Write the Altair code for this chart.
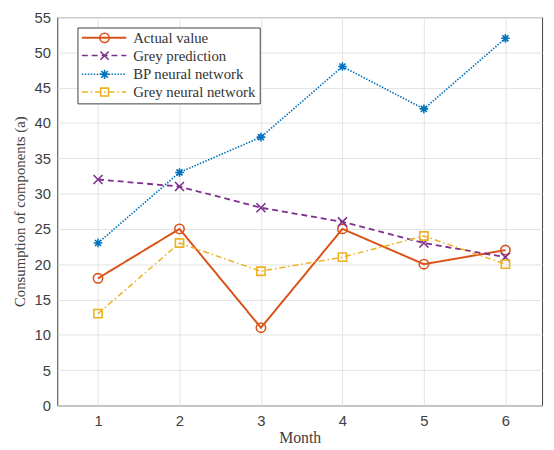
import altair as alt
import pandas as pd

months = [1, 2, 3, 4, 5, 6]
series_names = ["Actual value", "Grey prediction", "BP neural network", "Grey neural network"]
actual = [18, 25, 11, 25, 20, 22]
grey_pred = [32, 31, 28, 26, 23, 21]
bp_nn = [23, 33, 38, 48, 42, 52]
grey_nn = [13, 23, 19, 21, 24, 20]
y_ticks = list(range(0, 56, 5))

colors = ["#D95319", "#7E2F8E", "#0072BD", "#EDB120"]
dashes = [[1, 0], [6, 4], [1.5, 1.5], [6, 3, 1.5, 3]]
widths = [2, 1.5, 1.5, 1.5]
cross = "M-1,-1L1,1M-1,1L1,-1"
aster = "M-1,0L1,0M0,-1L0,1M-0.7,-0.7L0.7,0.7M-0.7,0.7L0.7,-0.7"
shapes = ["circle", cross, aster, "square"]
sizes = [90, 70, 90, 64]

rows = []
for name, vals in zip(series_names, [actual, grey_pred, bp_nn, grey_nn]):
    for m, v in zip(months, vals):
        rows.append({"month": m, "value": v, "series": name})
df = pd.DataFrame(rows)

x_axis = alt.Axis(values=months, title="Month", format="d", ticks=False,
                  labelPadding=8, titlePadding=2, labelOverlap=False)
y_axis = alt.Axis(values=y_ticks, title="Consumption of components (a)", tickCount=12,
                  ticks=False, labelPadding=7, titlePadding=7, labelOverlap=False, titleFontSize=15)
x_scale = alt.Scale(domain=[0.5, 6.45], nice=False, zero=False)
y_scale = alt.Scale(domain=[0, 55], nice=False)

color_s = alt.Scale(domain=series_names, range=colors)

lines = alt.Chart(df).mark_line().encode(
    x=alt.X("month:Q", scale=x_scale, axis=x_axis),
    y=alt.Y("value:Q", scale=y_scale, axis=y_axis),
    color=alt.Color("series:N", scale=color_s, legend=None),
    strokeDash=alt.StrokeDash("series:N", scale=alt.Scale(domain=series_names, range=dashes), legend=None),
    strokeWidth=alt.StrokeWidth("series:N", scale=alt.Scale(domain=series_names, range=widths), legend=None),
    detail="series:N",
)

points = alt.Chart(df).mark_point(filled=False, strokeWidth=1.6, opacity=1).encode(
    x=alt.X("month:Q", scale=x_scale, axis=x_axis),
    y=alt.Y("value:Q", scale=y_scale, axis=y_axis),
    color=alt.Color("series:N", scale=color_s, legend=None),
    shape=alt.Shape("series:N", scale=alt.Scale(domain=series_names, range=shapes), legend=None),
    size=alt.Size("series:N", scale=alt.Scale(domain=series_names, range=sizes), legend=None),
)

one = alt.Data(values=[{"k": 1}])
leg_box = alt.Chart(one).mark_rect(fill="white", stroke="#404040", strokeWidth=1).encode(
    x=alt.value(21), x2=alt.value(206), y=alt.value(11), y2=alt.value(88))

layers = [lines, points, leg_box]
leg_y = [21, 39, 58, 76]
for i, name in enumerate(series_names):
    ly = leg_y[i]
    layers.append(alt.Chart(one).mark_rule(color=colors[i], strokeDash=dashes[i], strokeWidth=widths[i]).encode(
        x=alt.value(25), x2=alt.value(70), y=alt.value(ly)))
    layers.append(alt.Chart(one).mark_point(shape=shapes[i], size=sizes[i], filled=False, color=colors[i],
                                            strokeWidth=1.6, opacity=1).encode(
        x=alt.value(48), y=alt.value(ly)))
    layers.append(alt.Chart(one).mark_text(text=name, align="left", baseline="middle",
                                           font="Liberation Serif", fontSize=15, color="#333333").encode(
        x=alt.value(77), y=alt.value(ly)))

chart = alt.layer(*layers).properties(
    width=492, height=394,
    autosize=alt.AutoSizeParams(type="none"),
    padding={"left": 50, "top": 6, "right": 4, "bottom": 42},
    background="white",
).configure_view(stroke="#404040", strokeWidth=1).configure_axis(
    domain=False,
    grid=True, gridColor="#e3e3e3", gridWidth=1,
    labelFont="Liberation Sans", labelFontSize=15, labelColor="#404040",
    titleFont="Liberation Serif", titleFontSize=16, titleFontWeight="normal", titleColor="#404040",
)

chart.save("out.html", embed_options={"renderer": "svg", "actions": False})
